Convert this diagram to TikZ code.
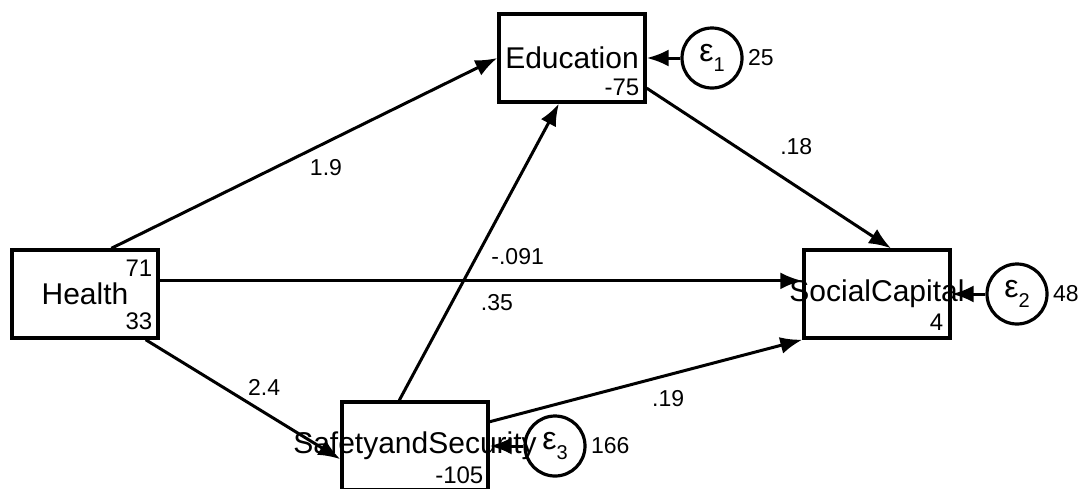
\documentclass[tikz,border=0pt]{standalone}
\usepackage{fontspec}
\setmainfont{Liberation Sans}
\usetikzlibrary{arrows.meta, positioning}

\newcommand{\errsym}[1]{ε\raisebox{-0.3em}{\fontsize{10}{10}\selectfont #1}}

\begin{document}
\begin{tikzpicture}[
        x=0.5pt, y=-0.5pt,
        var/.style={rectangle, draw, line width=1.7pt, minimum width=73pt, minimum height=44pt, inner sep=0pt},
        err/.style={circle, draw, line width=1.6pt, minimum size=30pt, inner sep=0pt, font=\fontsize{16}{18}\selectfont},
        vname/.style={font=\fontsize{15}{17}\selectfont},
        num/.style={font=\fontsize{12}{14}\selectfont, inner sep=0pt},
        coef/.style={font=\fontsize{11.5}{13}\selectfont},
        arr/.style={-{Latex[length=11pt, width=8.5pt]}, line width=1.5pt}
    ]
        \useasboundingbox (0,0) rectangle (1080,488);

        % Observed variables
        \node[var, label={[vname]center:Education}] (edu) at (572,58) {};
        \node[num, anchor=south east, xshift=-3.5pt, yshift=4pt] (edu-c) at (edu.south east) {-75};

        \node[var, label={[vname]center:Health}] (hlth) at (85,294) {};
        \node[num, anchor=north east, xshift=-3.5pt, yshift=-5.5pt] (hlth-m) at (hlth.north east) {71};
        \node[num, anchor=south east, xshift=-3.5pt, yshift=5pt] (hlth-v) at (hlth.south east) {33};

        \node[var, label={[vname]center:SocialCapital}] (soc) at (877,294) {};
        \node[num, anchor=south east, xshift=-4pt, yshift=4.5pt] (soc-c) at (soc.south east) {4};

        \node[var, label={[vname]center:SafetyandSecurity}] (safe) at (415,446) {};
        \node[num, anchor=south east, xshift=-3pt, yshift=4pt] (safe-c) at (safe.south east) {-105};

        % Error terms
        \node[err, label={[coef, inner sep=2pt]east:25}] (e1) at (712,58) {\errsym{1}};
        \node[err, label={[coef, inner sep=2pt]east:48}] (e2) at (1017,294) {\errsym{2}};
        \node[err, label={[coef, inner sep=2pt]east:166}] (e3) at (555,446) {\errsym{3}};

        % Paths
        \draw[arr] (hlth.60) -- node[coef, pos=0.556, yshift=-12.5pt] (p-he) {1.9} (edu.west);
        \draw[arr] (hlth.10) -- node[coef, pos=0.557, yshift=12pt] (p-hc) {-.091} (soc.170);
        \draw[arr] (hlth.-37) -- node[coef, pos=0.609, yshift=12.5pt] (p-hs) {2.4} (safe.190);
        \draw[arr] (safe.109) -- node[coef, pos=0.33, xshift=22.5pt] (p-se) {.35} (edu.254);
        \draw[arr] (safe.18) -- node[coef, pos=0.571, yshift=-12pt] (p-sc) {.19} (soc.south west);
        \draw[arr] (edu.-22) -- node[coef, pos=0.6, xshift=1.5pt, yshift=19pt] (p-ec) {.18} (soc.73);

        % Errors
        \draw[arr] (e1) -- (edu.east);
        \draw[arr] (e2) -- (soc.east);
        \draw[arr] (e3) -- (safe.east);
    \end{tikzpicture}
\end{document}
